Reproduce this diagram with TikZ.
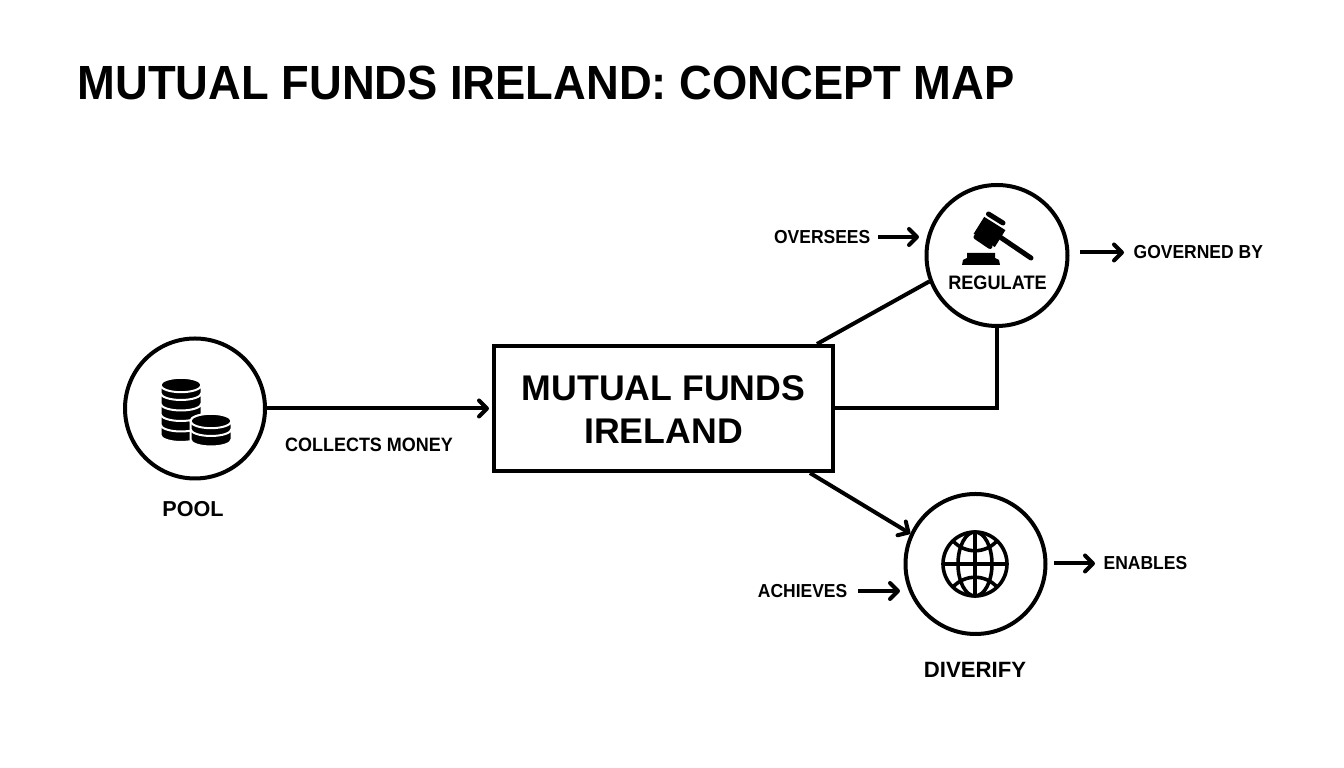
\documentclass[tikz,border=0pt]{standalone}
\usepackage{fontspec}
\setmainfont{Liberation Sans}
\newfontfamily\titlefont[FakeStretch=0.945]{Liberation Sans}
\newfontfamily\tagfont[FakeStretch=0.93]{Liberation Sans}
\usetikzlibrary{arrows.meta,calc}
\tikzset{
	hub/.style={draw, circle, line width=0.04cm, minimum size=1.4cm, inner sep=0pt},
	mainbox/.style={draw, line width=0.04cm, minimum width=3.39cm, minimum height=1.25cm, align=center, inner sep=0pt, font=\bfseries\fontsize{10.15pt}{12.3pt}\selectfont},
	tag/.style={font=\tagfont\bfseries\fontsize{5.35pt}{6pt}\selectfont, inner sep=0pt},
	conn/.style={line width=0.04cm},
	tip/.style={conn, -{Straight Barb[length=0.08cm,width=0.16cm,line width=0.04cm,round]}}
}
\def\coinstack(#1,#2)#3{
	\foreach \k in {#3,...,0}
		\draw[fill=black, draw=white, line width=0.02cm] ({#1-0.205},{#2-0.105*\k}) -- ({#1-0.205},{#2-0.105*\k-0.08}) arc (180:360:0.205 and 0.07) -- ({#1+0.205},{#2-0.105*\k}) arc (0:180:0.205 and 0.07);
	\draw[fill=black, draw=white, line width=0.02cm] (#1,#2) ellipse (0.205 and 0.072);
}
\begin{document}
\begin{tikzpicture}
	\useasboundingbox (0,0) rectangle (13.44,7.68);
	\fill[white] (0,0) rectangle (13.44,7.68);

	%%%%% TITLE %%%%%
	\node[anchor=base west, inner sep=0pt, font=\titlefont\bfseries\fontsize{13.65pt}{16pt}\selectfont] (title) at (0.77,6.68) {MUTUAL FUNDS IRELAND: CONCEPT MAP};

	%%%%% NODES %%%%%
	\node[mainbox] (funds) at (6.635,3.595) {};
	\node[font=\bfseries\fontsize{10.15pt}{12.3pt}\selectfont, align=center, inner sep=0pt] (fundslabel) at (6.635,3.585) {MUTUAL FUNDS\\IRELAND};
	\node[hub] (pool) at (1.95,3.595) {};
	\node[hub, minimum size=1.41cm] (regulate) at (9.97,5.125) {};
	\node[hub] (diverify) at (9.755,2.04) {};

	\node[tag, font=\bfseries\fontsize{6.15pt}{7pt}\selectfont] (poollabel) at (1.93,2.59) {POOL};
	\node[tag, font=\bfseries\fontsize{6.3pt}{7pt}\selectfont] (diverifylabel) at (9.75,0.985) {DIVERIFY};
	\node[tag, font=\tagfont\bfseries\fontsize{5.55pt}{6pt}\selectfont] (regulatelabel) at (9.975,4.85) {REGULATE};
	\node[tag, font=\tagfont\bfseries\fontsize{5.5pt}{6pt}\selectfont] (collects) at (3.69,3.235) {COLLECTS MONEY};
	\node[tag, anchor=east] (oversees) at (8.71,5.31) {OVERSEES};
	\node[tag, anchor=west] (governed) at (11.33,5.155) {GOVERNED BY};
	\node[tag, anchor=west] (enables) at (11.03,2.045) {ENABLES};
	\node[tag, anchor=east] (achieves) at (8.48,1.77) {ACHIEVES};

	\coordinate (overseesend) at (9.19,5.31);
	\coordinate (governedstart) at (10.8,5.155);
	\coordinate (enablesstart) at (10.54,2.045);
	\coordinate (achievesend) at (9,1.77);

	%%%%% CONNECTORS %%%%%
	\draw[tip, shorten >=0.03cm] (pool.east) -- (funds.west);
	\draw[conn] ([xshift=-0.18cm]funds.north east) -- (regulate.201);
	\draw[conn] (funds.east) -| (regulate.south);
	\draw[tip] ([xshift=-0.25cm]funds.south east) -- (diverify.155);
	\draw[tip] ([xshift=0.07cm]oversees.east) -- (overseesend);
	\draw[tip] (governedstart) -- ([xshift=-0.09cm]governed.west);
	\draw[tip] (enablesstart) -- ([xshift=-0.08cm]enables.west);
	\draw[tip] ([xshift=0.1cm]achieves.east) -- (achievesend);

	%%%%% COINS %%%%%
	\coinstack(1.81,3.83){4}
	\coinstack(2.11,3.47){1}

	%%%%% GAVEL %%%%%
	\draw[line width=0.05cm, line cap=round] (10,5.31) -- (10.31,5.1);
	\fill[rotate around={-32:(9.895,5.36)}] (9.77,5.26) rectangle (10.02,5.46);
	\draw[line width=0.05cm, line cap=round] (9.885,5.54) -- (10.03,5.45);
	\draw[line width=0.05cm, line cap=round] (9.76,5.31) -- (9.9,5.215);
	\fill (9.62,5.03) -- (9.63,5.08) -- (9.67,5.1) -- (9.67,5.15) -- (9.95,5.15) -- (9.95,5.1) -- (9.99,5.08) -- (10,5.03) -- cycle;

	%%%%% GLOBE %%%%%
	\draw[line width=0.036cm] (9.75,2.04) circle (0.32);
	\draw[line width=0.036cm] (9.75,2.04) ellipse (0.17 and 0.32);
	\draw[line width=0.036cm] (9.75,1.72) -- (9.75,2.36);
	\draw[line width=0.036cm] (9.43,2.04) -- (10.07,2.04);
	\draw[line width=0.036cm] (9.53,2.27) .. controls (9.65,2.14) and (9.85,2.14) .. (9.97,2.27);
	\draw[line width=0.036cm] (9.53,1.81) .. controls (9.65,1.94) and (9.85,1.94) .. (9.97,1.81);
\end{tikzpicture}
\end{document}
